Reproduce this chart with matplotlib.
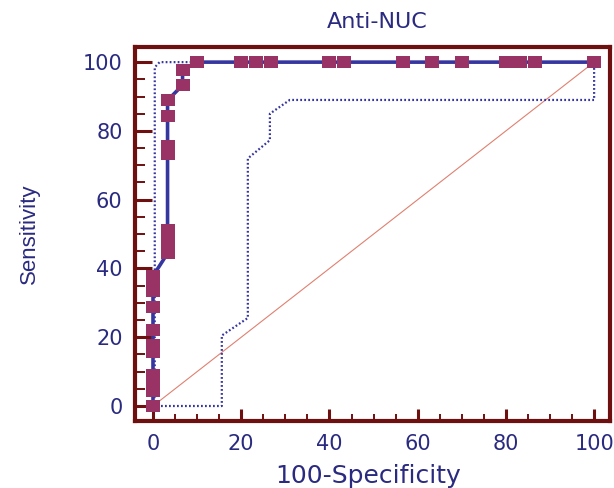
import matplotlib
matplotlib.use("Agg")
import matplotlib.pyplot as plt
from matplotlib.ticker import MultipleLocator
import numpy as np

# ROC points (100-Specificity, Sensitivity)
roc_x = [0, 0, 0, 0, 0, 0, 0, 0, 0, 0, 0,
         3.3, 3.3, 3.3, 3.3, 3.3, 3.3, 3.3, 3.3,
         6.7, 6.7, 10.0,
         20.0, 23.3, 26.7, 40.0, 43.3, 56.7, 63.3, 70.0, 80.0, 83.3, 86.7, 100.0]
roc_y = [0, 4.4, 6.7, 8.9, 15.6, 17.8, 22.2, 28.9, 33.3, 35.6, 37.8,
         44.4, 46.7, 48.9, 51.1, 73.3, 75.6, 84.4, 88.9,
         93.3, 97.8, 100,
         100, 100, 100, 100, 100, 100, 100, 100, 100, 100, 100, 100]

# Confidence bounds
upper_x = [0, 0.4, 0.4, 1.5, 100]
upper_y = [0, 3, 98.5, 100, 100]
lower_x = [0, 15.6, 15.6, 21.5, 21.5, 26.5, 26.5, 31.0, 100, 100]
lower_y = [0, 0, 20.5, 25.6, 72.0, 77.3, 85.0, 89.0, 89.0, 100]

# Reference diagonal
diag_x = [0, 100]
diag_y = [0, 100]

title = "Anti-NUC"
xlabel = "100-Specificity"
ylabel = "Sensitivity"
ticks = [0, 20, 40, 60, 80, 100]

W, H = 614, 488
fig = plt.figure(figsize=(W / 100, H / 100), dpi=100)
L, R, B, T = 135, 610, 421, 47
ax = fig.add_axes([L / W, (H - B) / H, (R - L) / W, (B - T) / H])

navy = "#2a2a80"
maroon = "#6e1010"
blue = "#3636a0"
mcol = "#993366"

ax.plot(diag_x, diag_y, color="#e08070", lw=0.8, zorder=1)
ax.plot(upper_x, upper_y, color=blue, lw=1.6, ls=(0, (0.8, 1.0)), zorder=2)
ax.plot(lower_x, lower_y, color=blue, lw=1.6, ls=(0, (0.8, 1.0)), zorder=2)

rect = [(-1, -0.85), (1, -0.85), (1, 0.85), (-1, 0.85), (-1, -0.85)]
ax.plot(roc_x, roc_y, color=blue, lw=2.6, zorder=3)
ax.plot(roc_x, roc_y, ls="none", marker=rect, markersize=9.6,
        markerfacecolor=mcol, markeredgewidth=0, zorder=4)

ax.set_xlim(-4.08, 103.6)
ax.set_ylim(-4.36, 104.4)
ax.set_xticks(ticks)
ax.set_yticks(ticks)
ax.xaxis.set_minor_locator(MultipleLocator(5))
ax.yaxis.set_minor_locator(MultipleLocator(5))

for s in ax.spines.values():
    s.set_color(maroon)
    s.set_linewidth(3)

ax.tick_params(axis="both", which="both", direction="in", colors=maroon,
               labelcolor=navy, top=False, right=False)
ax.tick_params(axis="x", which="major", length=9, width=2.2, pad=9, labelsize=15)
ax.tick_params(axis="x", which="minor", length=5, width=1.4)
ax.tick_params(axis="y", which="major", length=12, width=2.2, pad=9, labelsize=15)
ax.tick_params(axis="y", which="minor", length=7, width=1.4)
for lab in ax.get_xticklabels() + ax.get_yticklabels():
    lab.set_family("DejaVu Sans")

ax.set_title(title, color=navy, fontsize=16, family="DejaVu Sans", pad=14, x=0.51)
ax.set_xlabel(xlabel, color=navy, fontsize=18, family="DejaVu Sans")
ax.xaxis.set_label_coords(0.49, -0.115)
ax.set_ylabel(ylabel, color=navy, fontsize=16, family="Liberation Sans")
ax.yaxis.set_label_coords(-0.2, 0.5)

fig.savefig("out.png", dpi=100)
